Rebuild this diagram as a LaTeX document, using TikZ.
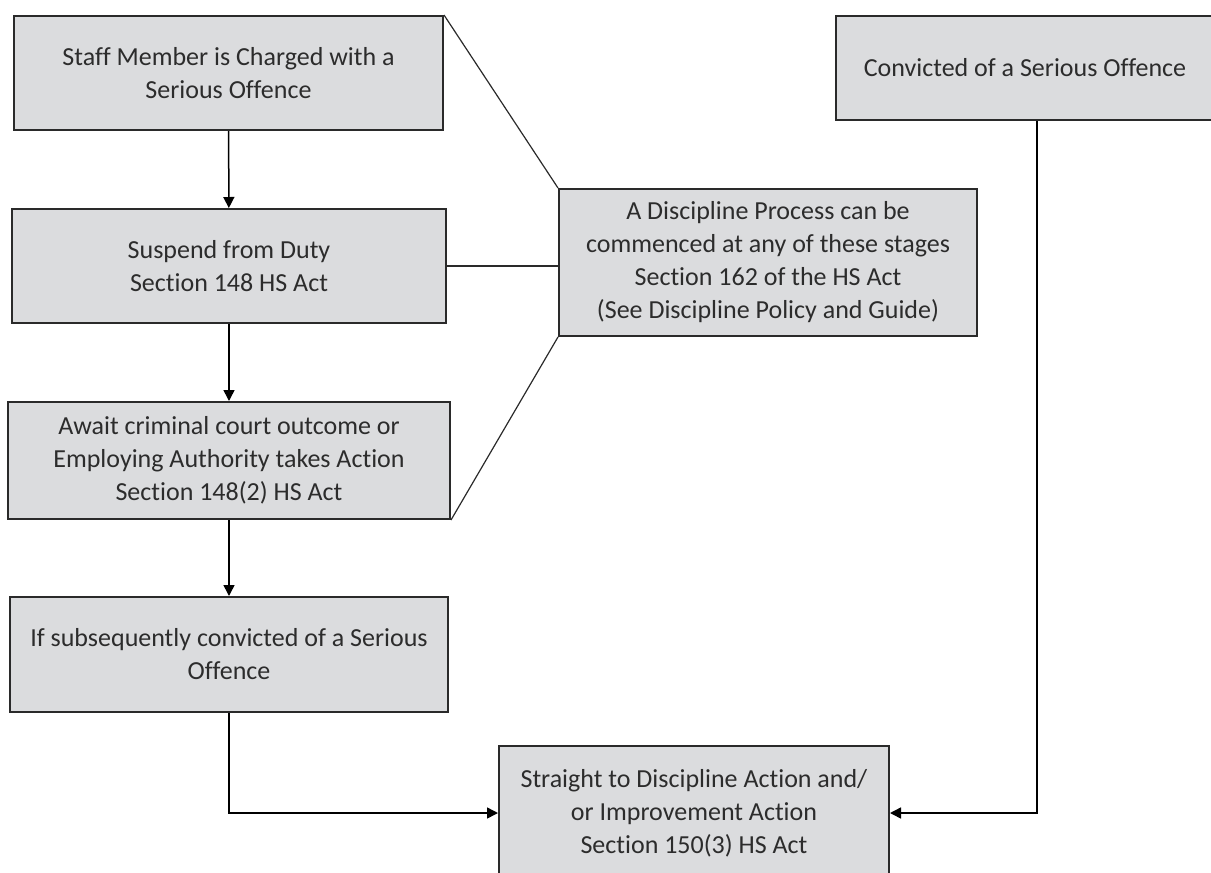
\documentclass[tikz,border=0pt]{standalone}
\usepackage{fontspec}
\setmainfont{Carlito}[Ligatures = NoCommon]
\usetikzlibrary{arrows.meta}

\definecolor{boxfill}{HTML}{DBDCDE}
\definecolor{boxline}{HTML}{2A2A2A}
\definecolor{boxtext}{HTML}{2C2C2C}

\tikzset{
    procbox/.style = {draw = boxline, line width = 1pt, fill = boxfill,
        text = boxtext, align = center, inner sep = 0pt,
        font = \fontsize{13pt}{16.5pt}\selectfont},
    flow/.style = {line width = 0.75pt, -{Triangle[length = 5.5pt, width = 5.5pt]}},
    link/.style = {line width = 0.6pt, draw = boxline}
}

\begin{document}
\begin{tikzpicture}[x = 0.5pt, y = -0.5pt]

        % Page frame, in pixels of the reference.
        \useasboundingbox (0, 0) rectangle (1211, 873);

        % Left column of stages.
        \node[procbox, minimum width = 214.5pt, minimum height = 57pt] (charged)
            at (228.5, 73) {Staff Member is Charged with a\\Serious Offence};
        \node[procbox, minimum width = 217pt, minimum height = 57pt] (suspend)
            at (229, 266) {Suspend from Duty\\Section 148 HS Act};
        \node[procbox, minimum width = 221pt, minimum height = 58.5pt] (await)
            at (229, 460.5) {Await criminal court outcome or\\Employing Authority takes Action\\Section 148(2) HS Act};
        \node[procbox, minimum width = 219pt, minimum height = 57.5pt] (later)
            at (229, 654.5) {If subsequently convicted of a Serious\\Offence};

        % Discipline process box and the outcome boxes.
        \node[procbox, minimum width = 209pt, minimum height = 73.5pt] (process)
            at (768, 262.5) {A Discipline Process can be\\commenced at any of these stages\\Section 162 of the HS Act\\(See Discipline Policy and Guide)};
        \node[procbox, minimum width = 189pt, minimum height = 52pt] (convicted)
            at (1025, 68) {Convicted of a Serious Offence};
        \node[procbox, minimum width = 195pt, minimum height = 67pt] (action)
            at (694, 813) {Straight to Discipline Action and/\\or Improvement Action\\Section 150(3) HS Act};

        % Arrows down the left column.
        \draw[flow] (charged) to (suspend);
        \draw[flow] (suspend) to (await);
        \draw[flow] (await) to (later);

        % Elbow arrows into the action box.
        \draw[flow] (later.south) |- (action.west);
        \draw[flow] ([xshift = 6pt]convicted.south) |- (action.east);

        % Plain links to the discipline process box.
        \draw[link] (charged.north east) to (process.north west);
        \draw[link] (suspend.east) to (suspend.east -| process.west);
        \draw[link] (await.south east) to (process.south west);
    \end{tikzpicture}
\end{document}
